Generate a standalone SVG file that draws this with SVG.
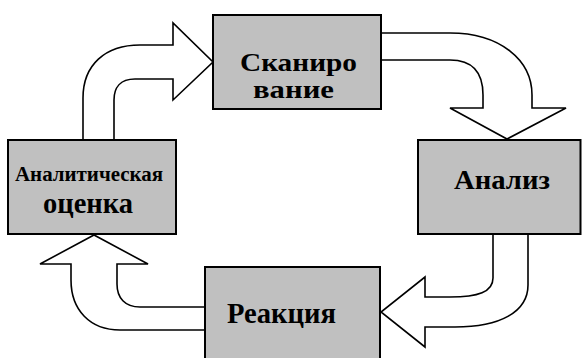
<svg xmlns="http://www.w3.org/2000/svg" width="582" height="358" viewBox="0 0 582 358">
<style>
.box{fill:#c0c0c0;stroke:#000;stroke-width:2}
.arr{fill:#fff;stroke:#000;stroke-width:1.6;stroke-linejoin:miter}
.t{font-family:"Liberation Serif","DejaVu Serif","Times New Roman",serif;font-weight:bold;fill:#000}
</style>
<rect width="582" height="358" fill="#fff"/>
<g id="connectors">
<path class="arr" d="M83,141 V98 C83,65 105,45 140,45 H173 V23 L213,62 L173,100 V79 H135 C120,79 114,88 114,100 V141 Z"/>
<path class="arr" d="M380,33 H450 C500,33 532,60 532,95 V108 H566 L507,139 L450,108 H483 V95 C483,72 472,60 450,60 H380 Z"/>
<path class="arr" d="M493,233 V278 C493,292 478,297 450,297 H425 V277 L381,312 L425,347 V327 H455 C500,327 528,312 528,285 V233 Z"/>
<path class="arr" d="M206,307 H140 C125,307 117,298 117,284 V264 H148 L94,235 L40,264 H71 V280 C71,310 90,330 120,330 H206 Z"/>
</g>
<g id="scan">
<rect class="box" x="213" y="15" width="168" height="94"/>
<text class="t" x="298.5" y="71" font-size="25" text-anchor="middle" textLength="117" lengthAdjust="spacingAndGlyphs">Сканиро</text>
<text class="t" x="293.5" y="98" font-size="25" text-anchor="middle" textLength="81" lengthAdjust="spacingAndGlyphs">вание</text>
</g>
<g id="analysis">
<rect class="box" x="418" y="140" width="162.5" height="94"/>
<text class="t" x="502" y="189" font-size="28" text-anchor="middle" textLength="96" lengthAdjust="spacingAndGlyphs">Анализ</text>
</g>
<g id="reaction">
<rect class="box" x="205" y="267" width="175" height="100"/>
<text class="t" x="281.5" y="323" font-size="29" text-anchor="middle" textLength="109" lengthAdjust="spacingAndGlyphs">Реакция</text>
</g>
<g id="evaluation">
<rect class="box" x="8" y="140" width="168" height="94"/>
<text class="t" x="89" y="181" font-size="20" text-anchor="middle" textLength="148" lengthAdjust="spacingAndGlyphs">Аналитическая</text>
<text class="t" x="88" y="213" font-size="29" text-anchor="middle" textLength="90" lengthAdjust="spacingAndGlyphs">оценка</text>
</g>
</svg>
